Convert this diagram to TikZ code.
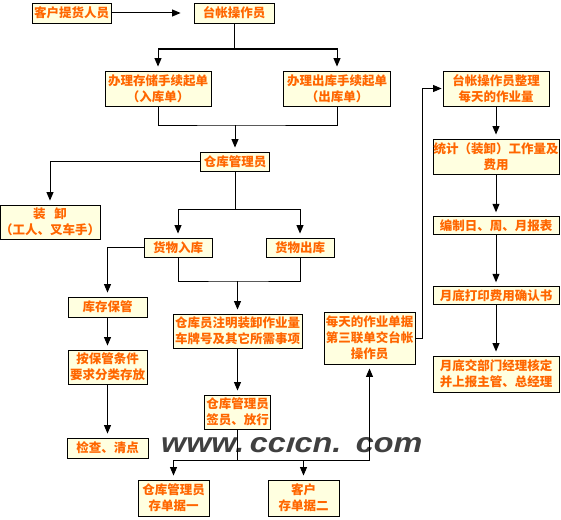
\documentclass[tikz,border=0pt]{standalone}
\usepackage{fontspec}
\setmainfont{Noto Sans CJK SC}
\newfontfamily\wmfont{Liberation Sans}
\usetikzlibrary{arrows.meta}
\definecolor{txt}{RGB}{255,102,0}
\definecolor{bg}{RGB}{255,255,224}
\definecolor{wm}{RGB}{64,64,64}
\begin{document}
\begin{tikzpicture}[x=1pt,y=-1pt,
  bx/.style={draw=black, line width=0.9pt, fill=bg, text=txt,
    font=\fontsize{12.5}{16}\selectfont\bfseries, align=center, inner sep=0pt},
  ln/.style={line width=1pt},
  arr/.style={ln,-{Triangle[width=7pt,length=8.5pt]},shorten >=4pt}]
\useasboundingbox (0,0) rectangle (561,519);
% watermark (below the lines)
\node[anchor=base west, inner sep=0pt, text=wm] (W) at (161,452)
  {\resizebox{261pt}{15pt}{\wmfont\bfseries\itshape www.\,cc\scalebox{1}[0.72]{l}cn.\ \,com}};
% nodes
\node[bx, minimum width=79pt, minimum height=20pt] (A) at (71.5,13) {客户提货人员};
\node[bx, minimum width=80pt, minimum height=20pt] (B) at (234,13) {台帐操作员};
\node[bx, minimum width=106pt, minimum height=35pt] (C) at (158,88.5) {办理存储手续起单\\（入库单）};
\node[bx, minimum width=107pt, minimum height=35pt] (D) at (337,88.5) {办理出库手续起单\\（出库单）};
\node[bx, minimum width=69pt, minimum height=19pt] (E) at (235,161.5) {仓库管理员};
\node[bx, minimum width=96pt, minimum height=34pt] (F) at (50,222) {装\hspace{9pt}卸\\（工人、叉车手）};
\node[bx, minimum width=68pt, minimum height=19pt] (G) at (178,247.5) {货物入库};
\node[bx, minimum width=68pt, minimum height=19pt] (H) at (300,247.5) {货物出库};
\node[bx, minimum width=79pt, minimum height=20pt] (I) at (107.5,307) {库存保管};
\node[bx, minimum width=129pt, minimum height=34pt] (J) at (237.5,331) {仓库员注明装卸作业量\\车牌号及其它所需事项};
\node[bx, minimum width=79pt, minimum height=34pt] (K) at (107.5,367) {按保管条件\\要求分类存放};
\node[bx, minimum width=66pt, minimum height=34pt] (L) at (237.5,412) {仓库管理员\\签员、放行};
\node[bx, minimum width=81pt, minimum height=20pt] (M) at (107.5,448) {检查、清点};
\node[bx, minimum width=71pt, minimum height=36pt] (N) at (173.5,498) {仓库管理员\\存单据一};
\node[bx, minimum width=71pt, minimum height=36pt] (O) at (303.5,498) {客户\\存单据二};
\node[bx, minimum width=91pt, minimum height=52pt] (P) at (369.5,338) {每天的作业单据\\第三联单交台帐\\操作员};
\node[bx, minimum width=106pt, minimum height=35pt] (Q) at (496,88.5) {台帐操作员整理\\每天的作业量};
\node[bx, minimum width=126pt, minimum height=35pt] (R) at (496,156.5) {统计（装卸）工作量及\\费用};
\node[bx, minimum width=126pt, minimum height=17.5pt] (S) at (496,225.5) {编制日、周、月报表};
\node[bx, minimum width=126pt, minimum height=17.5pt] (T) at (496,295.5) {月底打印费用确认书};
\node[bx, minimum width=126pt, minimum height=36pt] (U) at (496,374) {月底交部门经理核定\\并上报主管、总经理};
% connectors
\draw[arr, shorten >=13pt] (A) -- (B);
\draw[ln] (B.south) -- (B.south |- 0,49) coordinate (j1);
\draw[arr] (j1) -| (C.north);
\draw[arr] (j1) -| (D.north);
\coordinate (j2) at (E.north |- 0,125);
\draw[ln] (C.south) |- (j2) -| (D.south);
\draw[arr] (j2) -- (E.north);
\draw[arr] (E.west) -| (F.north);
\draw[ln] (E.south) -- (E.south |- 0,209) coordinate (j3);
\draw[arr] (j3) -| (G.north);
\draw[arr] (j3) -| (H.north);
\draw[arr] (G.west) -| (I.north);
\coordinate (j4) at (J.north |- 0,281);
\draw[ln] (G.south) |- (j4) -| (H.south);
\draw[arr] (j4) -- (J.north);
\draw[arr] (I) -- (K);
\draw[arr] (K) -- (M);
\draw[arr] (J) -- (L);
\draw[ln] (L.south) -- (L.south |- 0,460) coordinate (j5);
\draw[arr] (j5) -| (N.north);
\draw[arr] (j5) -| (O.north);
\draw[arr] (j5) -| (P.south);
\draw[arr, shorten >=1pt] (P.east) -- ++(7,0) |- (Q.west);
\draw[arr] (Q) -- (R);
\draw[arr] (R) -- (S);
\draw[arr] (S) -- (T);
\draw[arr] (T) -- (U);
\end{tikzpicture}
\end{document}
